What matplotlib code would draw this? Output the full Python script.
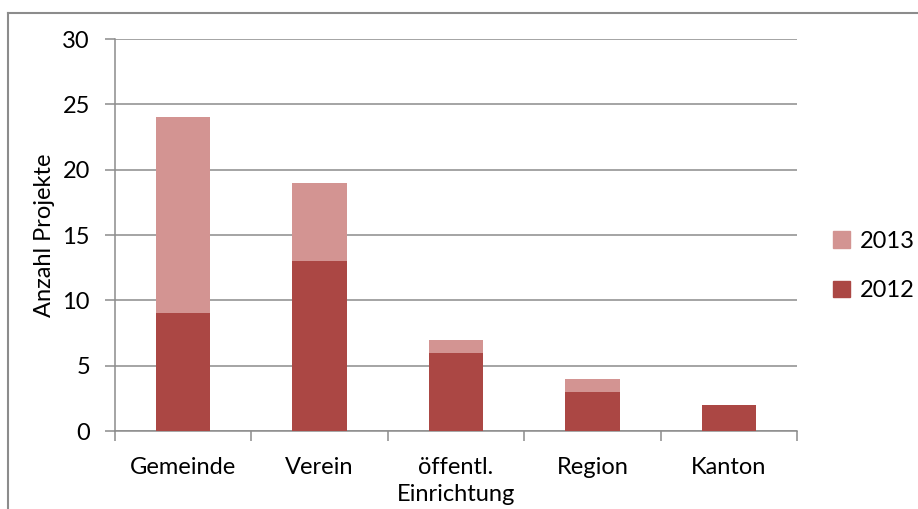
import matplotlib
matplotlib.use('Agg')
import matplotlib.pyplot as plt
from matplotlib.lines import Line2D
from matplotlib.patches import Patch
import numpy as np

plt.rcParams['font.family'] = ['Lato', 'DejaVu Sans']

categories = ['Gemeinde', 'Verein', 'öffentl.\nEinrichtung', 'Region', 'Kanton']
values_2012 = [9, 13, 6, 3, 2]
values_2013 = [15, 6, 1, 1, 0]
y_ticks = [0, 5, 10, 15, 20, 25, 30]

c2012 = '#ab4744'
c2013 = '#d39492'
grid_c = '#8c8c8c'
fs = 17

fig = plt.figure(figsize=(9.18, 5.09), dpi=100)
ax = fig.add_axes([115 / 918, 1 - 431 / 509, 682 / 918, 392 / 509])

x = np.arange(len(categories))
ax.bar(x, values_2012, width=0.4, color=c2012, zorder=3)
ax.bar(x, values_2013, width=0.4, bottom=values_2012, color=c2013, zorder=3)

ax.set_xlim(-0.5, len(categories) - 0.5)
ax.set_ylim(0, 30)
ax.set_yticks(y_ticks)
ax.yaxis.grid(True, color=grid_c, linewidth=1.1, zorder=0)

ax.set_xticks(x)
ax.set_xticklabels(categories, fontsize=fs, linespacing=1.35)
ax.set_xticks(np.arange(len(categories) + 1) - 0.5, minor=True)
ax.tick_params(axis='x', which='major', length=0, pad=19)
ax.tick_params(axis='x', which='minor', length=7, width=1.1, color=grid_c, direction='out')
ax.tick_params(axis='y', length=7, width=1.1, color=grid_c, direction='out', labelsize=fs, pad=11)

for side in ['top', 'right']:
    ax.spines[side].set_visible(False)
for side in ['left', 'bottom']:
    ax.spines[side].set_color(grid_c)
    ax.spines[side].set_linewidth(1.1)

ax.set_ylabel('Anzahl Projekte', fontsize=fs, labelpad=5)

handles = [Patch(color=c2013, label='2013'), Patch(color=c2012, label='2012')]
fig.legend(handles=handles, loc='center left', bbox_to_anchor=(833 / 918, 1 - 266 / 509),
           frameon=False, fontsize=fs, handlelength=0.7, handleheight=0.7,
           handletextpad=0.45, labelspacing=1.2, borderpad=0, borderaxespad=0)

# outer chart frame (only left and top edges visible)
fig.add_artist(Line2D([8 / 918, 8 / 918], [0, 1 - 13 / 509], color='#8c8c8c', linewidth=1.5))
fig.add_artist(Line2D([8 / 918, 1], [1 - 13 / 509, 1 - 13 / 509], color='#8c8c8c', linewidth=1.5))

fig.savefig('out.png', dpi=100)
